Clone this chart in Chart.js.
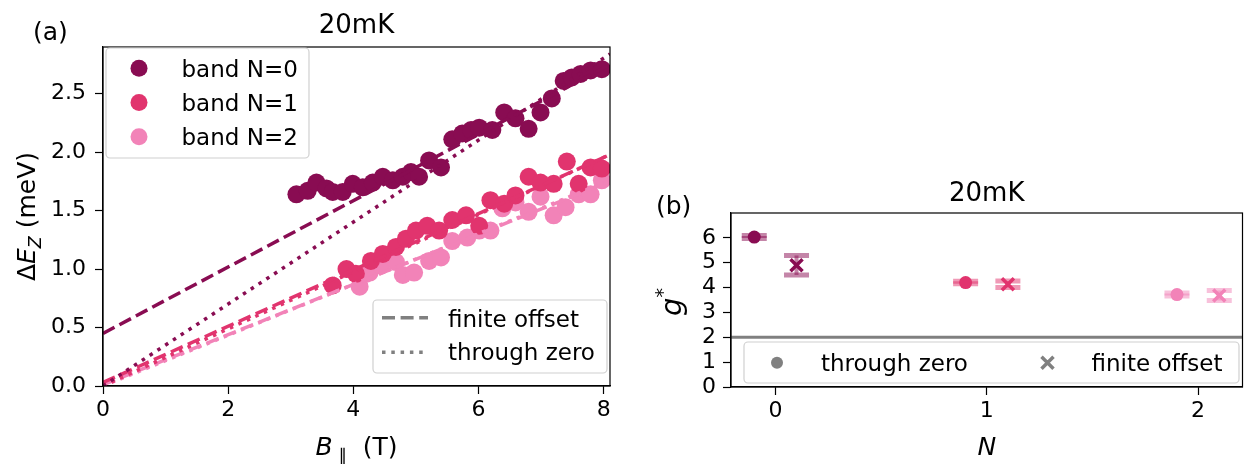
<!DOCTYPE html>
<html>
<head>
<meta charset="utf-8">
<script src="https://cdn.jsdelivr.net/npm/chart.js@4.4.0/dist/chart.umd.min.js"></script>
<style>
  html, body { margin: 0; padding: 0; background: #fff; overflow: hidden; }
  #chartA { position: absolute; left: 0; top: 0; }
  #chartB { position: absolute; left: 640px; top: 0; }
</style>
</head>
<body>
<canvas id="chartA" width="640" height="464"></canvas>
<canvas id="chartB" width="620" height="464"></canvas>
<script>
'use strict';
// ---- panel (a): Zeeman splitting vs in-plane field ----
let bandNames = ['band N=0', 'band N=1', 'band N=2'];

let fieldN0 = [3.09, 3.27, 3.41, 3.57, 3.67, 3.83, 3.99, 4.15, 4.31, 4.47, 4.63, 4.79, 4.92, 5.05, 5.21, 5.40,
  5.58, 5.74, 5.88, 6.01, 6.22, 6.41, 6.59, 6.80, 6.99, 7.17, 7.36, 7.49, 7.63, 7.79, 7.97];
let splitN0 = [1.64, 1.67, 1.74, 1.69, 1.66, 1.66, 1.73, 1.70, 1.74, 1.79, 1.76, 1.79, 1.83, 1.79, 1.93, 1.87,
  2.11, 2.16, 2.19, 2.21, 2.19, 2.34, 2.29, 2.20, 2.34, 2.46, 2.61, 2.64, 2.67, 2.70, 2.71];

let fieldN1 = [3.67, 3.89, 4.04, 4.28, 4.47, 4.68, 4.84, 5.00, 5.18, 5.37, 5.58, 5.80, 6.01, 6.19, 6.41, 6.59,
  6.80, 6.99, 7.20, 7.41, 7.60, 7.79, 7.97];
let splitN1 = [0.86, 1.00, 0.96, 1.07, 1.13, 1.19, 1.26, 1.33, 1.37, 1.33, 1.42, 1.46, 1.37, 1.59, 1.56, 1.63,
  1.79, 1.74, 1.73, 1.92, 1.73, 1.87, 1.86];

let fieldN2 = [4.10, 4.20, 4.26, 4.44, 4.68, 4.79, 4.97, 5.21, 5.40, 5.58, 5.82, 6.01, 6.19, 6.38, 6.59, 6.80,
  6.99, 7.20, 7.39, 7.60, 7.79, 7.97];
let splitN2 = [0.85, 0.96, 0.97, 1.03, 1.06, 0.95, 0.97, 1.07, 1.10, 1.24, 1.27, 1.33, 1.33, 1.52, 1.57, 1.49,
  1.62, 1.46, 1.53, 1.64, 1.64, 1.76];

// fitted lines, read at B=0 and at the right edge of the axes
let fitField = [0, 8.1];
let offsetFitN0 = [0.45, 2.75];
let zeroFitN0 = [0, 2.84];
let offsetFitN1 = [0.03, 1.98];
let zeroFitN1 = [0, 1.98];
let offsetFitN2 = [0.01, 1.75];
let zeroFitN2 = [0, 1.76];

let xTicksA = [0, 2, 4, 6, 8];
let yTicksA = [0, 0.5, 1, 1.5, 2, 2.5];

// ---- panel (b): g* per band ----
let zeroX = [-0.1, 0.9, 1.9];
let zeroG = [6.03, 4.2, 3.72];
let zeroErr = [0.06, 0.05, 0.06];
let offsetX = [0.1, 1.1, 2.1];
let offsetG = [4.9, 4.13, 3.68];
let offsetErr = [0.39, 0.13, 0.2];
let bareG = 2;
let xTicksB = [0, 1, 2];
let yTicksB = [0, 1, 2, 3, 4, 5, 6];

let colors = ['rgb(137,12,82)', 'rgb(225,52,110)', 'rgb(242,131,184)'];
let faded = ['rgba(137,12,82,0.5)', 'rgba(225,52,110,0.5)', 'rgba(242,131,184,0.5)'];
const FONT = '"DejaVu Sans", sans-serif';
const DASH = [13, 5.6];
const DOT = [3.5, 5.8];

function toPoints(xs, ys) {
    return xs.map((x, i) => ({ x: x, y: ys[i] }));
}

function axis(min, max, ticks, size, isX, pad, fmt) {
    return {
        type: 'linear', min: min, max: max,
        afterBuildTicks: s => { s.ticks = ticks.map(v => ({ value: v })); },
        afterFit: s => { if (isX) s.height = size; else s.width = size; },
        grid: { drawOnChartArea: false, drawTicks: true, tickLength: 8, tickWidth: 1.2, tickColor: '#000' },
        border: { display: true, color: '#000', width: 1.2 },
        ticks: { color: '#000', font: { family: FONT, size: 22 }, padding: pad,
            maxRotation: 0, autoSkip: false, callback: v => fmt(v) }
    };
}

// ---- small drawing helpers for frame, labels and legends ----
function font(size, italic) {
    return (italic ? 'italic ' : '') + size + 'px ' + FONT;
}
function frame(ctx, a) {
    ctx.strokeStyle = '#000';
    ctx.lineWidth = 1.2;
    ctx.setLineDash([]);
    ctx.strokeRect(a.left, a.top, a.right - a.left, a.bottom - a.top);
}
function label(ctx, t, x, y, align, size) {
    ctx.font = font(size || 22);
    ctx.fillStyle = '#000';
    ctx.textAlign = align;
    ctx.textBaseline = 'alphabetic';
    ctx.fillText(t, x, y);
}
// parts: [text, size, italic, baseline shift]
function rich(ctx, parts, x, y, rotated) {
    ctx.save();
    ctx.translate(x, y);
    if (rotated) ctx.rotate(-Math.PI / 2);
    ctx.fillStyle = '#000';
    ctx.textAlign = 'left';
    ctx.textBaseline = 'alphabetic';
    let w = 0;
    parts.forEach(p => { ctx.font = font(p[1], p[2]); w += ctx.measureText(p[0]).width; });
    let cx = -w / 2;
    parts.forEach(p => {
        ctx.font = font(p[1], p[2]);
        ctx.fillText(p[0], cx, p[3]);
        cx += ctx.measureText(p[0]).width;
    });
    ctx.restore();
}
function legendBox(ctx, x, y, w, h) {
    ctx.beginPath();
    ctx.roundRect(x, y, w, h, 4);
    ctx.fillStyle = 'rgba(255,255,255,0.8)';
    ctx.fill();
    ctx.strokeStyle = '#d0d0d0';
    ctx.lineWidth = 1.2;
    ctx.setLineDash([]);
    ctx.stroke();
}
function sampleLine(ctx, x0, x1, y, dash) {
    ctx.beginPath();
    ctx.setLineDash(dash);
    ctx.strokeStyle = '#808080';
    ctx.lineWidth = 3.5;
    ctx.moveTo(x0, y);
    ctx.lineTo(x1, y);
    ctx.stroke();
    ctx.setLineDash([]);
}

const panelA = {
    id: 'panelA',
    afterDraw(chart) {
        const ctx = chart.ctx, a = chart.chartArea;
        ctx.save();
        frame(ctx, a);
        label(ctx, '(a)', 33, 40, 'left', 25);
        label(ctx, '20mK', (a.left + a.right) / 2, 33, 'center', 26);
        rich(ctx, [['Δ', 25, false, 0], ['E', 25, true, 0], ['Z', 17.5, true, 6], [' (meV)', 25, false, 0]],
            35, (a.top + a.bottom) / 2, true);
        rich(ctx, [['B', 25, true, 0], [' ∥', 17.5, false, 6], ['  (T)', 25, false, 0]],
            (a.left + a.right) / 2, 455, false);

        // band legend
        legendBox(ctx, 106, 48, 203, 110);
        let rows = [68.3, 102.5, 136.7];
        for (let i = 0; i < 3; i++) {
            ctx.beginPath();
            ctx.fillStyle = colors[i];
            ctx.arc(139, rows[i], 8.5, 0, Math.PI * 2);
            ctx.fill();
            label(ctx, bandNames[i], 181.5, rows[i] + 8.5, 'left', 23);
        }
        // fit style legend
        legendBox(ctx, 373, 300, 234, 73);
        sampleLine(ctx, 382, 428, 317.7, DASH);
        label(ctx, 'finite offset', 448, 326.7, 'left', 23);
        sampleLine(ctx, 382, 428, 352.3, DOT);
        label(ctx, 'through zero', 448, 360, 'left', 23);
        ctx.restore();
    }
};

const panelB = {
    id: 'panelB',
    afterDraw(chart) {
        const ctx = chart.ctx, a = chart.chartArea;
        ctx.save();
        frame(ctx, a);
        label(ctx, '(b)', 16, 214, 'left', 25);
        label(ctx, '20mK', (a.left + a.right) / 2, 201, 'center', 26);
        rich(ctx, [['g', 29, true, 0], ['*', 19, false, -12]], 41, 302, true);
        rich(ctx, [['N', 25, true, 0]], (a.left + a.right) / 2, 455, false);

        legendBox(ctx, 104, 342, 495, 41);
        ctx.beginPath();
        ctx.fillStyle = '#808080';
        ctx.arc(137, 362.7, 6, 0, Math.PI * 2);
        ctx.fill();
        label(ctx, 'through zero', 181, 371, 'left', 23);
        ctx.beginPath();
        ctx.strokeStyle = '#808080';
        ctx.lineWidth = 3.5;
        ctx.moveTo(401.5, 356.7); ctx.lineTo(413.5, 368.7);
        ctx.moveTo(401.5, 368.7); ctx.lineTo(413.5, 356.7);
        ctx.stroke();
        label(ctx, 'finite offset', 451.5, 371, 'left', 23);
        ctx.restore();
    }
};

// ---- chart (a) ----
let scatterSets = [[fieldN0, splitN0], [fieldN1, splitN1], [fieldN2, splitN2]];
let offsetFits = [offsetFitN0, offsetFitN1, offsetFitN2];
let zeroFits = [zeroFitN0, zeroFitN1, zeroFitN2];
let datasetsA = [];
for (let i = 0; i < 3; i++) {
    datasetsA.push({
        label: bandNames[i], data: toPoints(scatterSets[i][0], scatterSets[i][1]),
        backgroundColor: colors[i], borderWidth: 0, pointRadius: 9, pointHoverRadius: 9, order: 1
    });
    datasetsA.push({
        label: 'finite offset', data: toPoints(fitField, offsetFits[i]), showLine: true,
        borderColor: colors[i], borderWidth: 3.5, borderDash: DASH, pointRadius: 0, order: 0
    });
    datasetsA.push({
        label: 'through zero', data: toPoints(fitField, zeroFits[i]), showLine: true,
        borderColor: colors[i], borderWidth: 3.5, borderDash: DOT, pointRadius: 0, order: 0
    });
}

new Chart(document.getElementById('chartA').getContext('2d'), {
    type: 'scatter',
    data: { datasets: datasetsA },
    options: {
        responsive: false, animation: false, events: [],
        layout: { padding: { left: 0, top: 47, right: 30, bottom: 0 } },
        plugins: { legend: { display: false }, tooltip: { enabled: false } },
        scales: {
            x: axis(0, 8.1, xTicksA, 78, true, 3, v => String(v)),
            y: axis(0, 2.9, yTicksA, 103, false, 9, v => v.toFixed(1))
        }
    },
    plugins: [panelA]
});

// ---- chart (b) ----
let datasetsB = [{
    label: 'g=2', data: toPoints([-0.21, 2.21], [bareG, bareG]), showLine: true,
    borderColor: '#808080', borderWidth: 3, pointRadius: 0, order: 3
}];
for (let i = 0; i < 3; i++) {
    let fits = [[zeroX[i], zeroG[i], zeroErr[i]], [offsetX[i], offsetG[i], offsetErr[i]]];
    fits.forEach(f => {
        let ends = toPoints([f[0], f[0]], [f[1] - f[2], f[1] + f[2]]);
        datasetsB.push({ data: ends, showLine: true, borderColor: faded[i], borderWidth: 4, pointRadius: 0, order: 2 });
        datasetsB.push({ data: ends, pointStyle: 'line', pointRadius: 12.5, borderColor: faded[i],
            borderWidth: 5, order: 2 });
    });
    datasetsB.push({ label: 'through zero', data: toPoints([zeroX[i]], [zeroG[i]]),
        backgroundColor: colors[i], borderWidth: 0, pointRadius: 6.5, order: 1 });
    datasetsB.push({ label: 'finite offset', data: toPoints([offsetX[i]], [offsetG[i]]), pointStyle: 'crossRot',
        borderColor: colors[i], borderWidth: 3.5, pointRadius: 8.5, order: 1 });
}

new Chart(document.getElementById('chartB').getContext('2d'), {
    type: 'scatter',
    data: { datasets: datasetsB },
    options: {
        responsive: false, animation: false, events: [],
        layout: { padding: { left: 0, top: 213, right: 7, bottom: 0 } },
        plugins: { legend: { display: false }, tooltip: { enabled: false } },
        scales: {
            x: axis(-0.21, 2.21, xTicksB, 77, true, 3, v => String(v)),
            y: axis(0, 7, yTicksB, 91, false, 7, v => String(v))
        }
    },
    plugins: [panelB]
});
</script>
</body>
</html>
